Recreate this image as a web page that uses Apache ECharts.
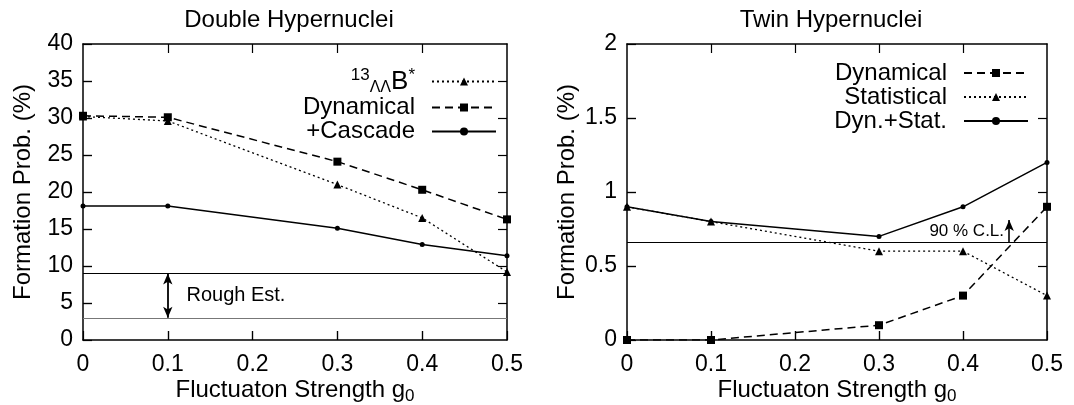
<!DOCTYPE html>
<html>
<head>
<meta charset="utf-8">
<script src="https://cdn.jsdelivr.net/npm/echarts@6/dist/echarts.min.js"></script>
<style>
  html, body { margin: 0; padding: 0; background: #fff; }
  #chart { width: 1074px; height: 405px; }
</style>
</head>
<body>
<div id="chart"></div>
<script>
// fluctuation strength g0
var gValues = [0, 0.1, 0.3, 0.4, 0.5];
var xTicks = [0.1, 0.2, 0.3, 0.4];

// left panel: double hypernuclei (%)
var doubleNames = ['13LLB*', 'Dynamical', '+Cascade'];
var bStar = [30.2, 29.6, 21.0, 16.5, 9.2];
var doubleDyn = [30.3, 30.1, 24.1, 20.3, 16.3];
var cascade = [18.1, 18.1, 15.1, 12.9, 11.4];
var roughEst = [3, 9];
var doubleYTicks = [5, 10, 15, 20, 25, 30, 35];

// right panel: twin hypernuclei (%)
var twinNames = ['Dynamical', 'Statistical', 'Dyn.+Stat.'];
var twinDyn = [0, 0, 0.1, 0.3, 0.9];
var twinStat = [0.9, 0.8, 0.6, 0.6, 0.3];
var twinSum = [0.9, 0.8, 0.7, 0.9, 1.2];
var clLimit = 0.66;
var twinYTicks = [0.5, 1, 1.5];

function pairs(ys) {
  return gValues.map(function (g, i) { return [g, ys[i]]; });
}

var FONT = 'Liberation Sans';
var TICK = 9;        // tick length in px
var PLOT_H = 296;
var chart = echarts.init(document.getElementById('chart'));

// bottom axis sits on y = 0 (onZero), the mirror top axis is pinned to the frame
function xAx(gridIndex, top) {
  return {
    type: 'value', gridIndex: gridIndex, position: top ? 'top' : 'bottom',
    min: 0, max: 0.5, interval: 0.1,
    axisLine: { show: true, onZero: !top, lineStyle: { color: '#000', width: 1.5 } },
    axisTick: { show: !top, inside: true, length: TICK, lineStyle: { color: '#000', width: 1.2 } },
    axisLabel: {
      show: !top, color: '#000', fontFamily: FONT, fontSize: 23, margin: 13,
      formatter: function (v) { return v === 0 ? '0' : String(+v.toFixed(1)); }
    },
    splitLine: { show: false },
    name: top ? '' : 'Fluctuaton Strength g{sub|0}',
    nameLocation: 'middle', nameGap: 36, nameMoveOverlap: false,
    nameTextStyle: {
      color: '#000', fontFamily: FONT, fontSize: 24,
      rich: { sub: { fontFamily: FONT, fontSize: 17, color: '#000', padding: [12, 0, 0, 0] } }
    }
  };
}

function yAx(gridIndex, right, max, interval) {
  return {
    type: 'value', gridIndex: gridIndex, position: right ? 'right' : 'left',
    min: 0, max: max, interval: interval,
    axisLine: { show: true, onZero: !right, lineStyle: { color: '#000', width: 1.5 } },
    axisTick: { show: !right, inside: true, length: TICK, lineStyle: { color: '#000', width: 1.2 } },
    axisLabel: { show: !right, color: '#000', fontFamily: FONT, fontSize: 23, margin: 10 },
    splitLine: { show: false },
    name: right ? '' : 'Formation Prob. (%)',
    nameLocation: 'middle', nameGap: 48, nameMoveOverlap: false,
    nameTextStyle: { color: '#000', fontFamily: FONT, fontSize: 24 }
  };
}

// inward frame ticks on all four sides, as short mark lines in data space
function frameTicks(yTicks, yMax, plotW) {
  var dy = yMax * TICK / PLOT_H;
  var dx = 0.5 * TICK / plotW;
  var segs = [];
  xTicks.forEach(function (v) {
    segs.push([{ coord: [v, 0] }, { coord: [v, dy] }]);
    segs.push([{ coord: [v, yMax] }, { coord: [v, yMax - dy] }]);
  });
  yTicks.forEach(function (v) {
    segs.push([{ coord: [0, v] }, { coord: [dx, v] }]);
    segs.push([{ coord: [0.5, v] }, { coord: [0.5 - dx, v] }]);
  });
  return segs;
}

function lineSeries(name, data, xi, yi, kind) {
  var s = {
    name: name, type: 'line', xAxisIndex: xi, yAxisIndex: yi,
    data: pairs(data), showSymbol: true,
    itemStyle: { color: '#000' },
    lineStyle: { color: '#000', width: 1.5 }
  };
  if (kind === 'dashed') {
    s.symbol = 'rect'; s.symbolSize = 8;
    s.lineStyle.type = [8, 5];
  } else if (kind === 'dotted') {
    s.symbol = 'triangle'; s.symbolSize = 8;
    s.lineStyle.type = [2, 3];
    s.lineStyle.width = 1.3;
  } else {
    s.symbol = 'circle'; s.symbolSize = 5;
  }
  return s;
}

var legendText = {
  color: '#000', fontFamily: FONT, fontSize: 24, padding: [0, 12, 0, 0],
  rich: {
    sup: { fontFamily: FONT, fontSize: 17, color: '#000', padding: [0, 0, 12, 0] },
    sub: { fontFamily: FONT, fontSize: 16, color: '#000', padding: [12, 0, 0, 0] },
    big: { fontFamily: FONT, fontSize: 26, color: '#000' }
  }
};

var doubleSeries = [
  lineSeries(doubleNames[0], bStar, 0, 0, 'dotted'),
  lineSeries(doubleNames[1], doubleDyn, 0, 0, 'dashed'),
  lineSeries(doubleNames[2], cascade, 0, 0, 'solid')
];
doubleSeries[2].markLine = {
  silent: true, symbol: 'none',
  label: { show: false },
  lineStyle: { color: '#000', width: 1.2, type: 'solid' },
  data: [
    { yAxis: roughEst[1], lineStyle: { color: '#000', width: 1.2, type: 'solid' } },
    { yAxis: roughEst[0], lineStyle: { color: '#777', width: 1.2, type: 'solid' } },
    [
      { coord: [0.1, roughEst[0]], symbol: 'arrow', symbolSize: [7, 11] },
      { coord: [0.1, roughEst[1]], symbol: 'arrow', symbolSize: [7, 11], lineStyle: { color: '#000', width: 1.8, type: 'solid' } }
    ]
  ].concat(frameTicks(doubleYTicks, 40, 424))
};
doubleSeries[2].markPoint = {
  silent: true, symbol: 'circle', symbolSize: 0,
  data: [{ coord: [0.122, 6.0], value: 0 }],
  label: { show: true, position: 'right', distance: 0, formatter: 'Rough Est.', color: '#000', fontFamily: FONT, fontSize: 20 }
};

var twinSeries = [
  lineSeries(twinNames[0], twinDyn, 2, 2, 'dashed'),
  lineSeries(twinNames[1], twinStat, 2, 2, 'dotted'),
  lineSeries(twinNames[2], twinSum, 2, 2, 'solid')
];
twinSeries[2].markLine = {
  silent: true, symbol: 'none',
  label: { show: false },
  lineStyle: { color: '#000', width: 1.2, type: 'solid' },
  data: [
    { yAxis: clLimit, lineStyle: { color: '#000', width: 1.2, type: 'solid' } },
    [
      { coord: [0.455, clLimit], symbol: 'none' },
      { coord: [0.455, 0.81], symbol: 'arrow', symbolSize: [7, 11], lineStyle: { color: '#000', width: 1.6, type: 'solid' } }
    ]
  ].concat(frameTicks(twinYTicks, 2, 420))
};
twinSeries[2].markPoint = {
  silent: true, symbol: 'circle', symbolSize: 0,
  data: [{ coord: [0.36, 0.735], value: 0 }],
  label: { show: true, position: 'right', distance: 0, formatter: '90 % C.L.', color: '#000', fontFamily: FONT, fontSize: 17 }
};

var option = {
  backgroundColor: '#fff',
  animation: false,
  textStyle: { fontFamily: FONT },
  title: [
    { text: 'Double Hypernuclei', left: 284, top: 3, textAlign: 'center',
      textStyle: { color: '#000', fontFamily: FONT, fontSize: 24, fontWeight: 'normal' } },
    { text: 'Twin Hypernuclei', left: 826, top: 3, textAlign: 'center',
      textStyle: { color: '#000', fontFamily: FONT, fontSize: 24, fontWeight: 'normal' } }
  ],
  grid: [
    { left: 83, top: 44, width: 424, height: PLOT_H, outerBoundsMode: 'none' },
    { left: 627, top: 44, width: 420, height: PLOT_H, outerBoundsMode: 'none' }
  ],
  xAxis: [xAx(0, false), xAx(0, true), xAx(1, false), xAx(1, true)],
  yAxis: [yAx(0, false, 40, 5), yAx(0, true, 40, 5), yAx(1, false, 2, 0.5), yAx(1, true, 2, 0.5)],
  legend: [
    {
      data: doubleNames, orient: 'vertical', align: 'right',
      right: 1074 - 502, top: 62, itemWidth: 64, itemHeight: 10, itemGap: 0,
      selectedMode: false, textStyle: legendText,
      formatter: function (n) { return n === doubleNames[0] ? '{sup|13}{sub|ΛΛ}{big|B}{sup|*}' : n; }
    },
    {
      data: twinNames, orient: 'vertical', align: 'right',
      right: 1074 - 1034, top: 56, itemWidth: 64, itemHeight: 10, itemGap: 0,
      selectedMode: false, textStyle: { color: '#000', fontFamily: FONT, fontSize: 24, padding: [0, 12, 0, 0] }
    }
  ],
  series: doubleSeries.concat(twinSeries)
};

chart.setOption(option);
</script>
</body>
</html>
